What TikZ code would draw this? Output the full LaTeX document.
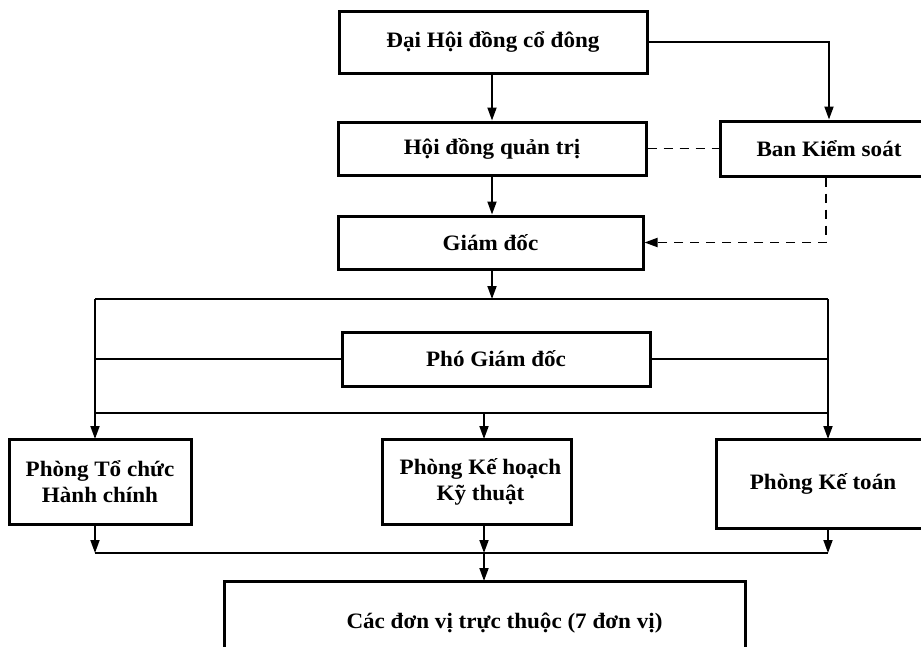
\documentclass[tikz,border=0pt]{standalone}
\usepackage{fontspec}
\setmainfont{Liberation Serif}[FakeStretch=1.05]
\usetikzlibrary{arrows.meta}
\tikzset{
  orgbox/.style={draw=black, line width=3pt, fill=white, font=\fontsize{22}{26}\selectfont\bfseries, align=center, inner sep=0pt},
  conn/.style={draw=black, line width=1.8pt},
  arr/.style={conn, -{Triangle[length=13pt,width=9pt]}},
  dconn/.style={conn, dash pattern=on 9pt off 7pt},
}
\begin{document}
\begin{tikzpicture}[x=1pt,y=-1pt]
\useasboundingbox (0,0) rectangle (921,646);
\fill[white] (0,0) rectangle (921,646);
\clip (0,0) rectangle (921,646);
% nodes
\node[orgbox, minimum width=308pt, minimum height=62pt] (dh) at (493,42) {Đại Hội đồng cổ đông};
\node[orgbox, minimum width=308pt, minimum height=53pt] (hd) at (492,148.5) {Hội đồng quản trị};
\node[orgbox, minimum width=218pt, minimum height=55pt] (bks) at (829,148.5) {Ban Kiểm soát};
\node[orgbox, minimum width=305pt, minimum height=53pt] (gd) at (490.5,242.5) {Giám đốc};
\node[orgbox, minimum width=308pt, minimum height=54pt] (pgd) at (496,359) {Phó Giám đốc};
\node[orgbox, minimum width=182pt, minimum height=85pt] (p1) at (100,481.5) {Phòng Tổ chức\\Hành chính};
\node[orgbox, minimum width=189pt, minimum height=85pt] (p2) at (476.5,481.5) {\hspace*{8pt}Phòng Kế hoạch\\\hspace*{8pt}Kỹ thuật};
\node[orgbox, minimum width=214pt, minimum height=89pt] (p3) at (823,483.5) {Phòng Kế toán};
\node[orgbox, minimum width=521pt, minimum height=84pt] (units) at (484.5,623) {\hspace*{40pt}Các đơn vị trực thuộc (7 đơn vị)};
% coordinates
\coordinate (tl) at (95,299);
\coordinate (tm) at (492,299);
\coordinate (tr) at (828,299);
\coordinate (ml) at (95,359);
\coordinate (mr) at (828,359);
\coordinate (ll) at (95,413);
\coordinate (lm) at (484,413);
\coordinate (lr) at (828,413);
\coordinate (p1in) at (95,439);
\coordinate (p2in) at (484,439);
\coordinate (p3in) at (828,439);
\coordinate (p1out) at (95,524);
\coordinate (p2out) at (484,524);
\coordinate (p3out) at (828,528);
\coordinate (bl) at (95,553);
\coordinate (bm) at (484,553);
\coordinate (br) at (828,553);
\coordinate (uin) at (484,581);
% connectors
\draw[arr] (hd.north |- dh.south) -- (hd.north);
\draw[arr] (dh.east) -| (bks.north);
\draw[dconn] (hd.east) -- (hd.east -| bks.west);
\draw[arr] (hd.south) -- (hd.south |- gd.north);
\draw[conn, dash pattern=on 9pt off 7pt, -{Triangle[length=13pt,width=9pt]}] ([xshift=-3pt]bks.south) |- (gd.east);
\draw[arr] (tm |- gd.south) -- (tm);
\draw[conn] (tl) -- (tr);
\draw[arr] (tl) -- (p1in);
\draw[arr] (tr) -- (p3in);
\draw[conn] (ml) -- (pgd.west);
\draw[conn] (pgd.east) -- (mr);
\draw[conn] (ll) -- (lr);
\draw[arr] (lm) -- (p2in);
\draw[arr] (p1out) -- (bl);
\draw[arr] (p2out) -- (bm);
\draw[arr] (p3out) -- (br);
\draw[conn] (bl) -- (br);
\draw[arr] (bm) -- (uin);
\end{tikzpicture}
\end{document}
